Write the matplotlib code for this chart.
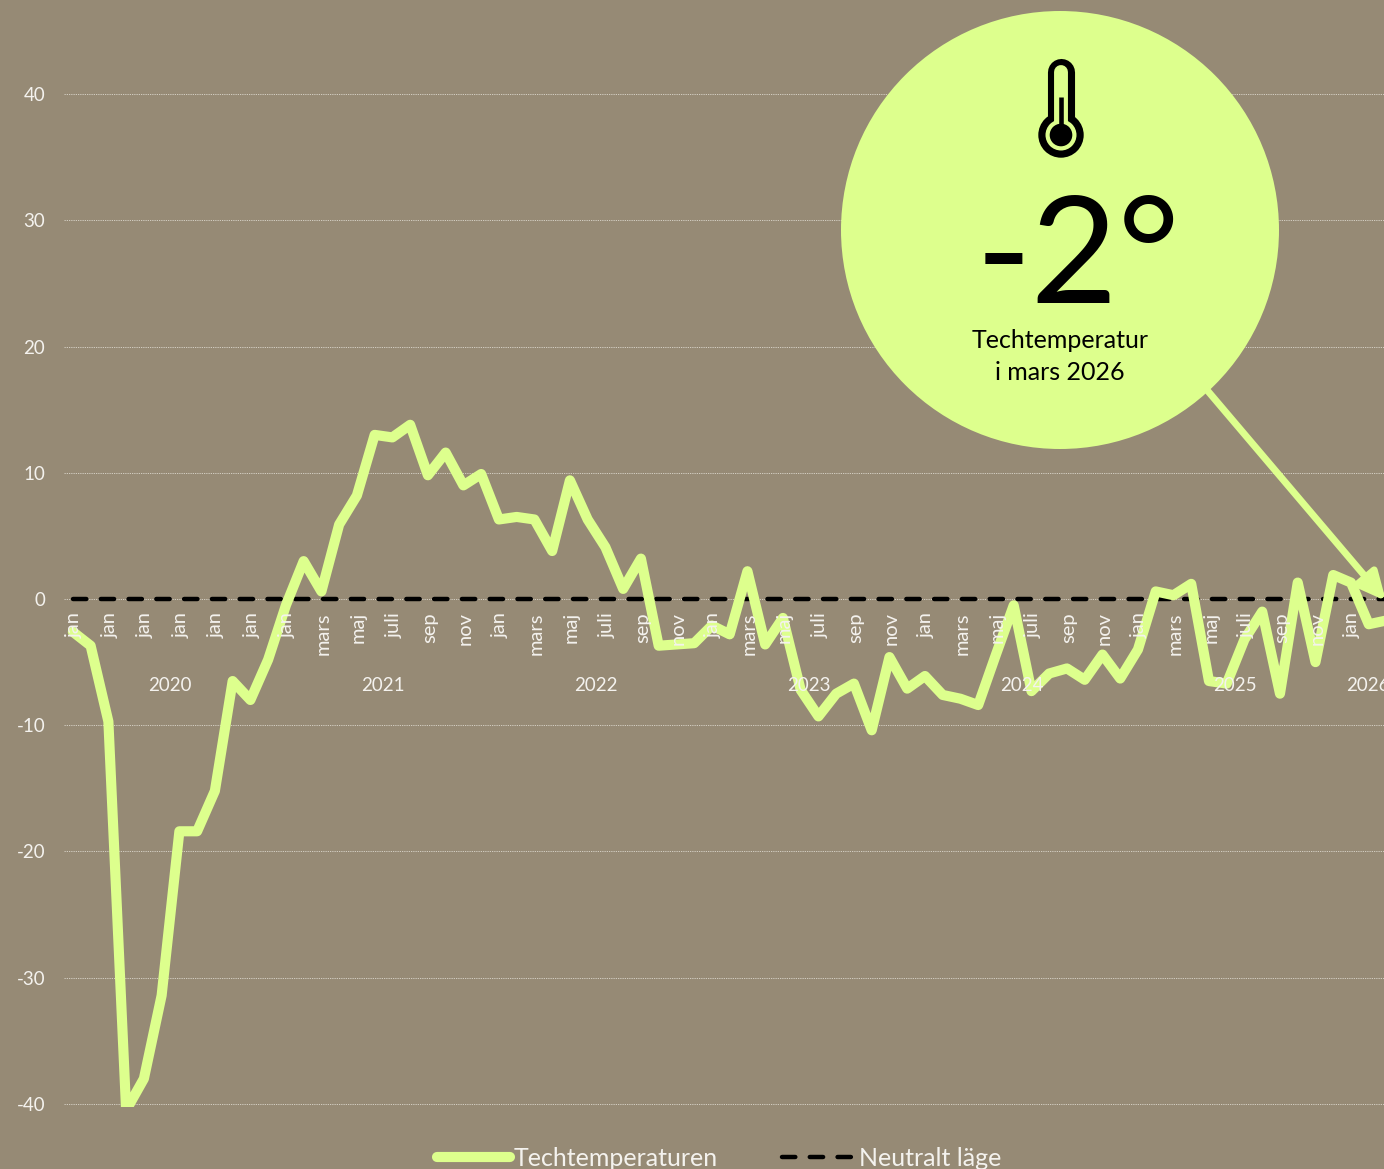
#!/usr/bin/env python3
"""Techtemperaturen, monthly, with the callout for the latest reading."""
import matplotlib
matplotlib.use("Agg")
import matplotlib.pyplot as plt
from matplotlib.patches import Circle

plt.rcParams["font.family"] = ["Lato", "DejaVu Sans"]
plt.rcParams["axes.unicode_minus"] = False

BG = "#968A75"
GREEN = "#DDFF8D"
TXT = "#F4F2EE"

temp = [-2.6, -3.7, -9.7, -40.5, -38.0, -31.4, -18.4, -18.4, -15.2, -6.5, -8.0, -4.8,
        -0.5, 3.0, 0.6, 5.9, 8.2, 13.0, 12.8, 13.8, 9.8, 11.6, 9.0, 9.9,
        6.3, 6.5, 6.3, 3.8, 9.4, 6.3, 4.1, 0.8, 3.2, -3.7, -3.6, -3.5,
        -2.1, -2.8, 2.2, -3.6, -1.5, -7.2, -9.3, -7.5, -6.7, -10.4, -4.6, -7.1,
        -6.1, -7.6, -7.9, -8.4, -4.4, -0.5, -7.3, -5.9, -5.5, -6.4, -4.4, -6.3,
        -4.0, 0.6, 0.3, 1.2, -6.5, -6.7, -3.2, -1.0, -7.5, 1.3, -5.0, 1.9,
        1.3, -2.0, -1.7]
neutral = [0] * len(temp)
months = list(range(len(temp)))

month_labels = ["jan"] * 6 + ["jan", "mars", "maj", "juli", "sep", "nov"] * 5 + ["jan", "mars"]
years = ["2020", "2021", "2022", "2023", "2024", "2025", "2026"]
year_pos = [5.5, 17.5, 29.5, 41.5, 53.5, 65.5, 73]
yticks = [40, 30, 20, 10, 0, -10, -20, -30, -40]

W, H = 1384, 1169
fig = plt.figure(figsize=(W / 100, H / 100), dpi=100, facecolor=BG)
ax = fig.add_axes([64 / W, (H - 1106.5) / H, (W - 64) / W, 1015 / H], facecolor=BG)
ax.set_xlim(-0.5, 73.86)
ax.set_ylim(-40.2, 40.2)
for s in ax.spines.values():
    s.set_visible(False)
ax.set_xticks([])
ax.set_yticks(yticks)
ax.tick_params(axis="y", length=0, pad=13.5, labelsize=13.5, labelcolor=TXT)
ax.grid(axis="y", color="#E8E4DC", lw=0.6, ls=(0, (1.5, 1.2)), alpha=0.85)
ax.set_axisbelow(True)

ax.plot(months, neutral, color="black", lw=3.2, ls=(0, (3.0, 3.25)),
        dash_capstyle="round", zorder=2, label="Neutralt läge")
ax.plot(months, temp, color=GREEN, lw=7.3, solid_joinstyle="round",
        solid_capstyle="round", zorder=3, label="Techtemperaturen")

for i, lab in enumerate(month_labels):
    ax.annotate(lab, (i * 2, 0), xytext=(1.2, -9.5), textcoords="offset points", rotation=90,
                ha="center", va="top", fontsize=14.5, color=TXT, zorder=5,
                annotation_clip=False)
for pos, lab in zip(year_pos, years):
    ax.annotate(lab, (pos, 0), xytext=(-0.6, -62.5), textcoords="offset points",
                ha="center", va="center", fontsize=13.5, color=TXT, zorder=5,
                annotation_clip=False)

h, l = ax.get_legend_handles_labels()
fig.legend(h[::-1], l[::-1], loc="center", bbox_to_anchor=(719 / W, (H - 1158) / H), ncol=2,
           frameon=False, fontsize=18, labelcolor=TXT, handlelength=2.9,
           handletextpad=0.15, columnspacing=2.6, borderpad=0)

# callout drawn in pixel coordinates on top of the chart
ov = fig.add_axes([0, 0, 1, 1], facecolor="none")
ov.set_xlim(0, W)
ov.set_ylim(H, 0)
ov.axis("off")
ov.annotate("", xy=(1386, 601), xytext=(1190, 370), annotation_clip=False,
            arrowprops=dict(arrowstyle="-|>,head_length=0.42,head_width=0.2", color=GREEN,
                            lw=5, mutation_scale=40, shrinkA=0, shrinkB=0))
ov.add_patch(Circle((1060, 230), 219, fc=GREEN, ec="none", zorder=3))

# thermometer icon
ov.plot([1061, 1061], [72, 135], color="black", lw=19.5, solid_capstyle="round", zorder=4)
ov.add_patch(Circle((1061, 135), 22.7, fc="black", ec="none", zorder=4))
ov.add_patch(Circle((1061, 135), 15.5, fc=GREEN, ec="none", zorder=5))
ov.plot([1061, 1061], [72, 135], color=GREEN, lw=10, solid_capstyle="round", zorder=5)
ov.add_patch(Circle((1061, 135), 11.3, fc="black", ec="none", zorder=6))
ov.plot([1061, 1061], [97, 135], color="black", lw=3.3, solid_capstyle="butt", zorder=6)

ov.text(1078, 261, "-2°", fontsize=108, color="black", ha="center", va="center", zorder=7)
ov.text(1060, 340, "Techtemperatur", fontsize=18, color="black", ha="center", va="center", zorder=7)
ov.text(1060, 372, "i mars 2026", fontsize=18, color="black", ha="center", va="center", zorder=7)

fig.savefig("out.png", dpi=100, facecolor=BG)
